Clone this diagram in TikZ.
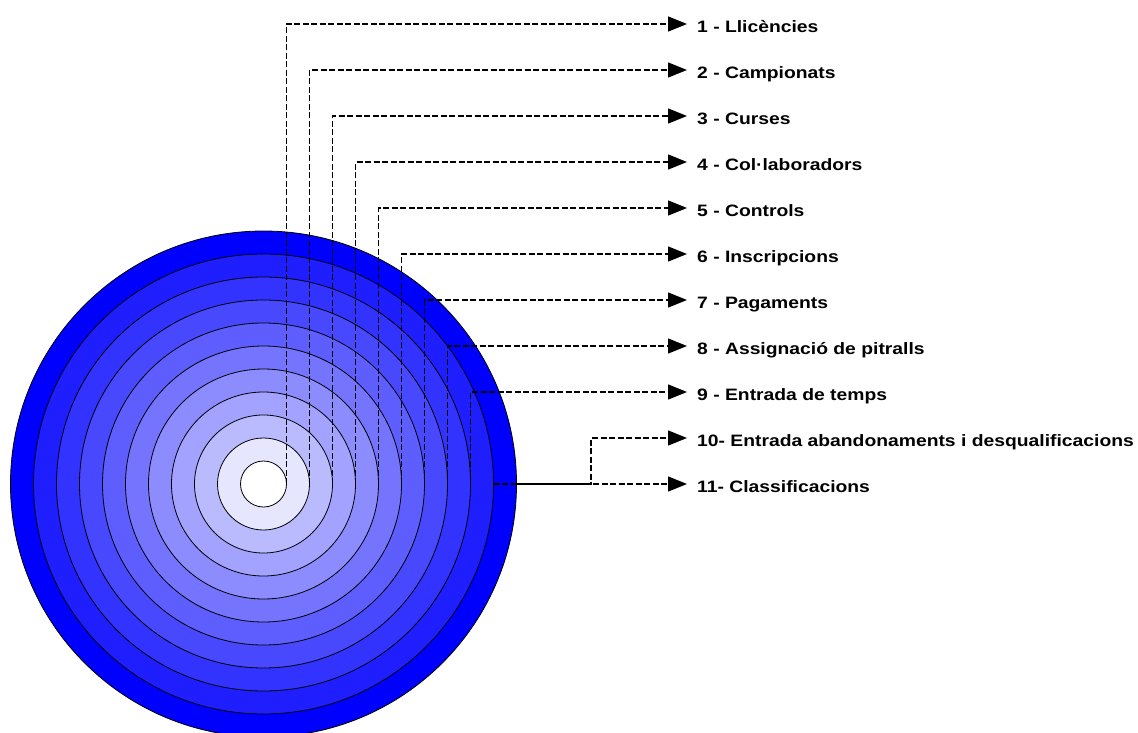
\documentclass[tikz,border=0pt]{standalone}
\usepackage{fontspec}
\setmainfont{Liberation Sans}
\newfontfamily\lblfont[FakeStretch=1.17]{Liberation Sans}
\usetikzlibrary{arrows.meta}
\begin{document}
\begin{tikzpicture}[x=1pt,y=-1pt,
  ring/.style={circle,draw=black,line width=0.8pt,inner sep=0pt,outer sep=0pt},
  conn/.style={dash pattern=on 6pt off 2.5pt,line width=1.4pt,-{Triangle[length=19pt,width=15pt]}},
  lbl/.style={anchor=west,inner xsep=10pt,inner ysep=0pt,text height=16.6pt,text depth=0pt,
    font=\lblfont\bfseries\fontsize{16.5}{18}\selectfont}]
\useasboundingbox (0,0) rectangle (1138,733);
\coordinate (o) at (263.5,484);
\foreach \k/\c in {11/0000FF,10/1E1EFF,9/3333FF,8/4848FF,7/5E5EFF,6/7474FF,5/8C8CFF,4/A3A3FF,3/BABAFF,2/E6E6FF,1/FFFFFF}{
  \definecolor{ringcol}{HTML}{\c}
  \node[ring,fill=ringcol,minimum size=46*\k] (c\k) at (o) {};
}
\foreach \k/\t in {1/{1 - Llicències},2/{2 - Campionats},3/{3 - Curses},4/{4 - Col·laboradors},
  5/{5 - Controls},6/{6 - Inscripcions},7/{7 - Pagaments},8/{8 - Assignació de pitralls},
  9/{9 - Entrada de temps},10/{10- Entrada abandonaments i desqualificacions},11/{11- Classificacions}}{
  \node[lbl] (l\k) at (687,{24+46*(\k-1)}) {\t};
}
\foreach \k in {1,...,9}{
  \draw[conn] (c\k.east) |- (l\k.west);
}
\coordinate (j10) at (591,484);
\draw[conn] (c10.east) -- (j10) |- (l10.west);
\draw[conn] (c11.east) -- (l11.west);
\end{tikzpicture}
\end{document}
